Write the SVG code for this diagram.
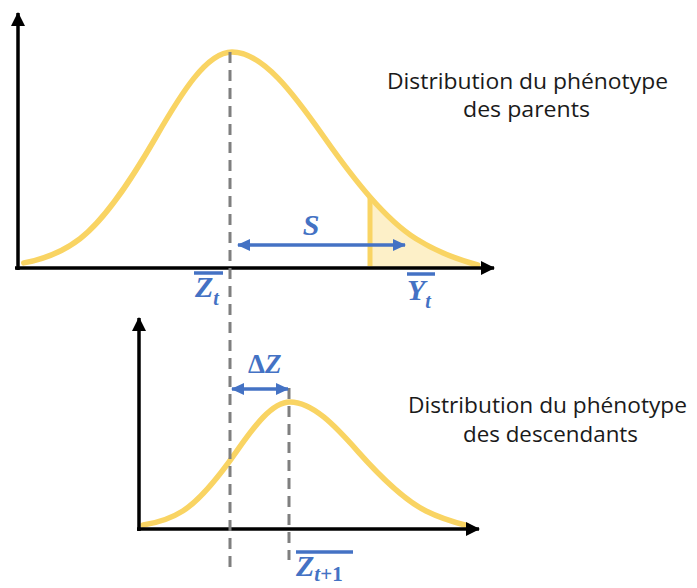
<svg xmlns="http://www.w3.org/2000/svg" width="697" height="588" viewBox="0 0 697 588">
<style>
.axis{stroke:#000;stroke-width:3.5;fill:none}
.curve{stroke:#F9D463;stroke-width:5.5;fill:none;stroke-linecap:round}
.dash{stroke:#7F7F7F;stroke-width:3;stroke-dasharray:11 7;fill:none}
.blue{stroke:#4472C4;stroke-width:3.5;fill:none}
.math{font-family:"Liberation Serif",serif;font-weight:bold;font-style:italic;fill:#4472C4}
.lbl{font-family:"Open Sans","Noto Sans",sans-serif;font-size:22px;fill:#1a1a1a}
</style>
<defs>
<marker id="ah" markerUnits="userSpaceOnUse" markerWidth="16" markerHeight="16" refX="13" refY="7" orient="auto">
<path d="M0,0 L14,7 L0,14 Z" fill="#000"/>
</marker>
<marker id="bh" markerUnits="userSpaceOnUse" markerWidth="14" markerHeight="14" refX="12" refY="6" orient="auto-start-reverse">
<path d="M0,0 L13,6 L0,12 Z" fill="#4472C4"/>
</marker>
<clipPath id="tail"><rect x="370" y="150" width="120" height="120"/></clipPath>
</defs>

<g id="parents">
<path d="M23.8,262.9 C42.5,259.5 61.2,253.2 80,238.8 C105.3,219.3 130.7,180.7 156,137 C181.3,93.3 206.7,52 232,52 C262.7,52 293.3,93.3 324,137 C354.7,180.7 385.3,219.3 416,238.8 C436.5,251.8 457.1,259.3 477.6,265 L477.6,268 L23.8,268 Z" fill="#FDF0C8" stroke="none" clip-path="url(#tail)"/>
<line x1="370" y1="198" x2="370" y2="266" stroke="#F9D463" stroke-width="5"/>
<path class="curve" d="M23.8,262.9 C42.5,259.5 61.2,253.2 80,238.8 C105.3,219.3 130.7,180.7 156,137 C181.3,93.3 206.7,52 232,52 C262.7,52 293.3,93.3 324,137 C354.7,180.7 385.3,219.3 416,238.8 C436.5,251.8 457.1,259.3 477.6,265"/>
</g>

<g id="descendants">
<path class="curve" d="M143.1,525 C156.4,523 169.6,519.4 182.8,511 C200.6,499.6 218.6,477.1 236.4,451.6 C254.3,426.1 272.1,402 290,402 C312.7,402 335.3,426.1 358,451.6 C380.7,477.1 403.3,499.6 426,511 C439.6,517.8 453.2,522 466.8,525.5"/>
</g>

<g id="axes">
<line class="axis" x1="18" y1="270" x2="18" y2="13" marker-end="url(#ah)"/>
<line class="axis" x1="15" y1="268" x2="494" y2="268" marker-end="url(#ah)"/>
<line class="axis" x1="139" y1="531" x2="139" y2="318" marker-end="url(#ah)"/>
<line class="axis" x1="137" y1="529" x2="479" y2="529" marker-end="url(#ah)"/>
</g>

<g id="connectors">
<line class="dash" x1="230" y1="52" x2="230" y2="570"/>
<line class="dash" x1="289" y1="388" x2="289" y2="560"/>
<line class="blue" x1="238" y1="245" x2="405" y2="245" marker-start="url(#bh)" marker-end="url(#bh)"/>
<line class="blue" x1="232" y1="389" x2="288" y2="389" marker-start="url(#bh)" marker-end="url(#bh)"/>
</g>

<g id="labels">
<text class="math" x="311" y="235" font-size="30" text-anchor="middle">S</text>
<line class="blue" x1="194" y1="273" x2="223" y2="273" stroke-width="2.5"/>
<text class="math" x="195" y="297" font-size="30">Z<tspan font-size="20" dy="8">t</tspan></text>
<line class="blue" x1="407" y1="274" x2="435" y2="274" stroke-width="2.5"/>
<text class="math" x="407" y="300" font-size="30">Y<tspan font-size="20" dy="8">t</tspan></text>
<text class="math" x="248" y="373" font-size="27"><tspan font-style="normal">Δ</tspan>Z</text>
<line class="blue" x1="296" y1="552" x2="353" y2="552" stroke-width="2.5"/>
<text class="math" x="296" y="576" font-size="30">Z<tspan font-size="21" dy="5">t<tspan font-style="normal">+1</tspan></tspan></text>
</g>

<g id="legend">
<text class="lbl" x="387" y="89" textLength="281" lengthAdjust="spacingAndGlyphs">Distribution du phénotype</text>
<text class="lbl" x="463" y="117" textLength="127" lengthAdjust="spacingAndGlyphs">des parents</text>
<text class="lbl" x="408" y="413" textLength="279" lengthAdjust="spacingAndGlyphs">Distribution du phénotype</text>
<text class="lbl" x="463" y="442" textLength="175" lengthAdjust="spacingAndGlyphs">des descendants</text>
</g>
</svg>
